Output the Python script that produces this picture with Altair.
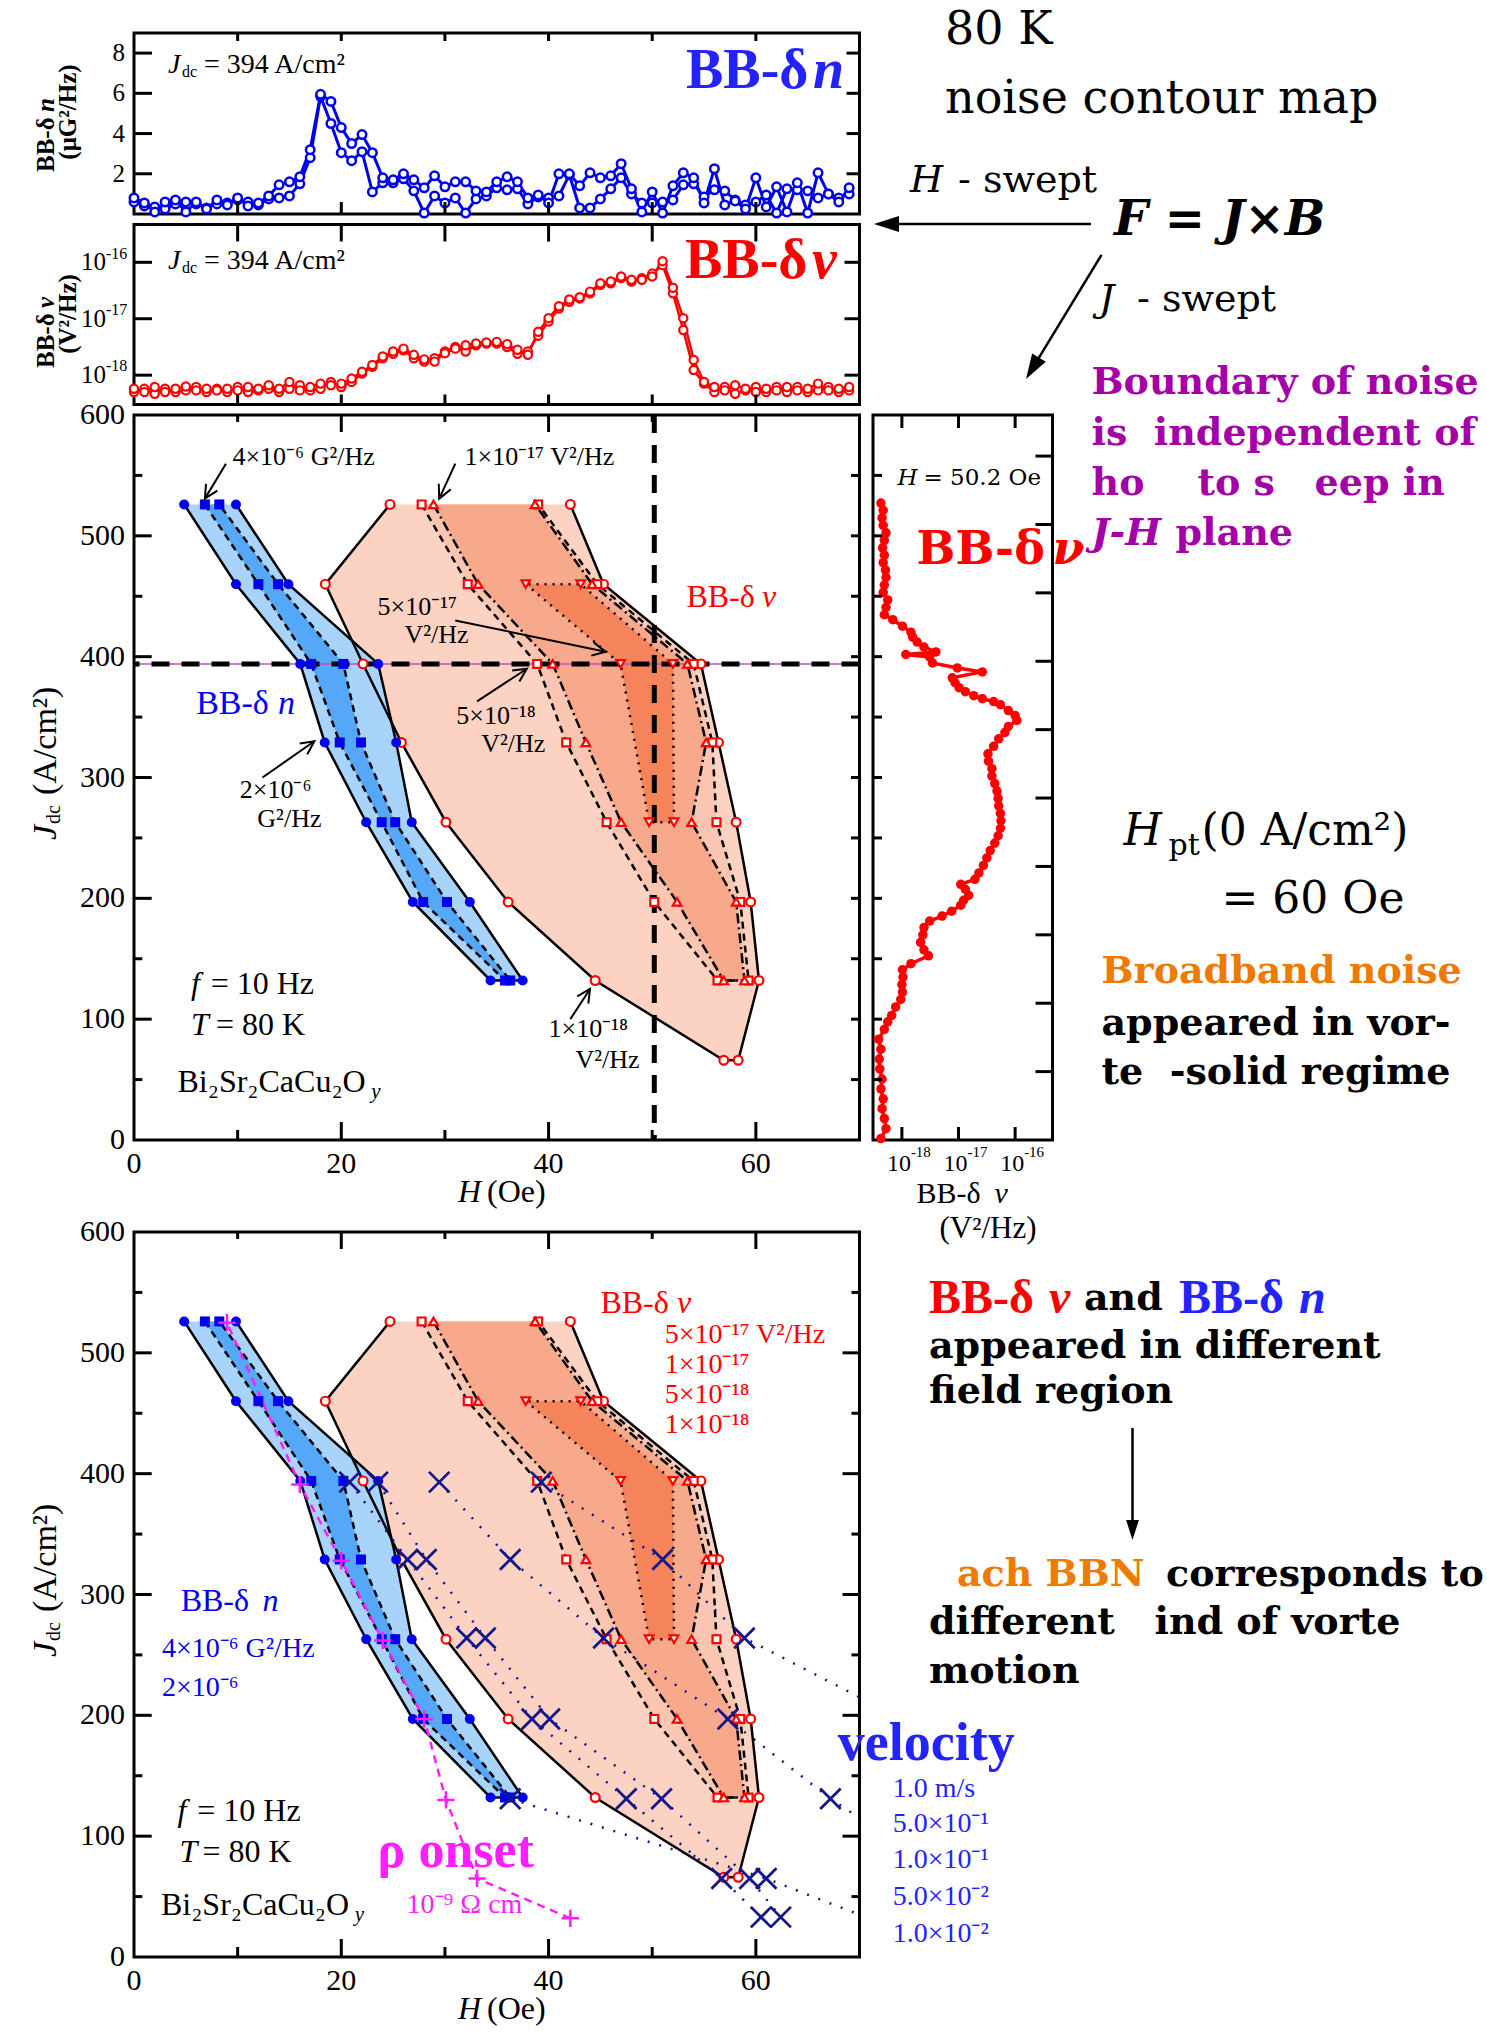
import math
import altair as alt
import pandas as pd

SERIF = "Liberation Serif"
WIDE = "DejaVu Serif"

BLUE = "#0000EE"
RED = "#FF0000"
NAVY = "#16168C"
MAGENTA = "#FF1EFF"
PURPLE = "#A500A8"
ORANGE = "#EE7A00"
LBLUE = "#2323FF"

# ------------------------------------------------------------------ data
# H-swept broadband noise at Jdc = 394 A/cm^2 (two field sweeps)
H_SWEEP = [0, 1, 2, 3, 4, 5, 6, 7, 8, 9,
           10, 11, 12, 13, 14, 15, 16, 17, 18, 19,
           20, 21, 22, 23, 24, 25, 26, 27, 28, 29,
           30, 31, 32, 33, 34, 35, 36, 37, 38, 39,
           40, 41, 42, 43, 44, 45, 46, 47, 48, 49,
           50, 51, 52, 53, 54, 55, 56, 57, 58, 59,
           60, 61, 62, 63, 64, 65, 66, 67, 68, 69]
DN_A = [0.8, 0.55, 0.1, 0.6, 0.7, 0.1, 0.6, 0.25, 0.7, 0.45,
        0.8, 0.4, 0.55, 0.9, 1.45, 1.6, 1.85, 3.2, 5.95, 5.6,
        4.3, 3.5, 3.95, 3.05, 1.8, 1.7, 2.0, 1.7, 1.3, 1.9,
        1.35, 1.6, 1.6, 1.15, 1.1, 1.6, 1.85, 1.6, 0.8, 0.95,
        0.55, 2.0, 2.0, 1.4, 2.05, 1.8, 1.9, 2.5, 1.25, 0.1,
        1.1, 0.05, 1.4, 2.05, 1.8, 0.55, 2.25, 0.45, 0.65, 0.25,
        1.8, 0.35, 1.35, 0.1, 1.55, 0.05, 2.05, 1.0, 0.6, 1.3]
DN_B = [0.6, 0.4, 0.35, 0.25, 0.5, 0.6, 0.5, 0.3, 0.5, 0.55,
        0.7, 0.6, 0.45, 0.75, 0.8, 0.9, 1.5, 2.8, 5.85, 4.5,
        3.05, 2.65, 3.1, 1.1, 1.55, 1.55, 1.75, 1.15, 0.05, 0.9,
        0.55, 0.8, 0.05, 0.75, 0.9, 1.3, 1.2, 1.25, 0.5, 0.85,
        0.8, 0.9, 1.95, 0.3, 0.3, 0.75, 1.25, 1.8, 1.0, 0.55,
        0.55, 0.6, 0.7, 1.45, 1.5, 0.85, 1.2, 1.15, 0.7, 0.45,
        0.6, 0.95, 0.05, 1.25, 1.2, 1.15, 0.8, 1.0, 0.8, 1.0]
# BB-delta v, log10 (V^2/Hz)
DV_A = [-18.24, -18.30, -18.21, -18.30, -18.24, -18.20, -18.27, -18.24, -18.27, -18.24,
        -18.27, -18.21, -18.24, -18.18, -18.24, -18.12, -18.27, -18.21, -18.15, -18.18,
        -18.15, -18.06, -17.94, -17.82, -17.67, -17.58, -17.53, -17.64, -17.72, -17.76,
        -17.61, -17.53, -17.47, -17.44, -17.42, -17.41, -17.45, -17.55, -17.64, -17.23,
        -16.99, -16.78, -16.66, -16.62, -16.52, -16.37, -16.34, -16.25, -16.31, -16.31,
        -16.25, -15.98, -16.45, -16.99, -17.73, -18.12, -18.21, -18.27, -18.18, -18.24,
        -18.30, -18.24, -18.27, -18.21, -18.27, -18.24, -18.15, -18.27, -18.24, -18.21]
DV_B = [-18.30, -18.24, -18.33, -18.24, -18.30, -18.27, -18.21, -18.30, -18.24, -18.30,
        -18.21, -18.30, -18.27, -18.24, -18.30, -18.24, -18.18, -18.27, -18.24, -18.12,
        -18.21, -18.12, -17.97, -17.85, -17.70, -17.62, -17.56, -17.70, -17.76, -17.70,
        -17.58, -17.50, -17.58, -17.47, -17.44, -17.44, -17.50, -17.62, -17.58, -17.30,
        -17.05, -16.82, -16.70, -16.64, -16.55, -16.40, -16.37, -16.28, -16.34, -16.28,
        -16.20, -16.05, -16.55, -17.20, -17.91, -18.15, -18.30, -18.21, -18.33, -18.27,
        -18.21, -18.30, -18.21, -18.30, -18.21, -18.30, -18.27, -18.21, -18.30, -18.27]

# J-swept BB-delta v at H = 50.2 Oe
J_SWEEP = [1.2, 9.4, 17.7, 25.9, 34.1, 42.3, 50.5, 58.8, 67.0, 75.2,
           83.4, 91.6, 97.8, 103.1, 110.1, 116.3, 122.4, 128.6, 134.8, 140.9,
           145.9, 152.4, 157.4, 163.5, 169.7, 175.8, 181.2, 185.3, 189.4, 194.3,
           198.4, 202.5, 207.5, 211.6, 215.7, 221.0, 227.2, 233.4, 239.5, 245.7,
           251.8, 258.0, 264.2, 270.3, 276.5, 282.7, 288.8, 295.0, 301.2, 307.3,
           313.5, 319.6, 325.8, 332.0, 337.3, 342.2, 347.2, 351.3, 355.4, 360.3,
           362.8, 365.2, 367.7, 371.0, 374.3, 378.4, 382.5, 387.4, 390.7, 394.8,
           399.8, 401.8, 403.9, 408.0, 412.1, 416.2, 420.3, 425.2, 430.6, 434.7,
           440.8, 447.0, 453.2, 459.3, 465.5, 471.7, 477.8, 484.0, 490.1, 496.3,
           502.5, 508.6, 514.8, 521.0, 527.1]
DV_J = [-18.37, -18.28, -18.31, -18.35, -18.33, -18.37, -18.35, -18.39, -18.40, -18.37,
        -18.41, -18.31, -18.25, -18.18, -18.11, -18.02, -17.99, -18.00, -17.98, -17.99,
        -17.84, -17.53, -17.61, -17.67, -17.63, -17.61, -17.51, -17.29, -17.12, -16.96,
        -16.91, -16.82, -16.88, -16.96, -16.71, -16.64, -16.56, -16.50, -16.44, -16.36,
        -16.30, -16.26, -16.25, -16.26, -16.29, -16.30, -16.32, -16.36, -16.41, -16.41,
        -16.47, -16.48, -16.38, -16.29, -16.18, -16.12, -15.97, -16.00, -16.12, -16.26,
        -16.38, -16.58, -16.73, -16.88, -16.99, -17.06, -17.11, -16.58, -17.02, -17.46,
        -17.51, -17.93, -17.40, -17.61, -17.73, -17.81, -17.84, -17.99, -18.16, -18.31,
        -18.28, -18.25, -18.33, -18.31, -18.28, -18.29, -18.33, -18.31, -18.34, -18.31,
        -18.28, -18.33, -18.35, -18.33, -18.37]

# BB-delta n contours (left / right field at each Jdc row)
BN_J = [526, 460, 394, 329, 263, 197, 132]
BN2_L = [4.84, 9.84, 16.04, 18.4, 22.4, 26.9, 34.4]     # 2e-6 G^2/Hz
BN2_R = [9.84, 14.9, 23.56, 25.3, 26.8, 32.4, 37.5]
BN4_L = [6.84, 12.0, 17.1, 19.85, 23.9, 27.9, 35.8]     # 4e-6 G^2/Hz
BN4_R = [8.23, 13.9, 20.2, 21.9, 25.2, 30.2, 36.3]

# BB-delta v contours
V18_J = [526, 460, 394, 329, 263, 197, 132, 66]          # 1e-18 V^2/Hz
V18_L = [24.7, 18.46, 22.1, 25.8, 30.1, 36.1, 44.5, 56.9]
V18_R = [42.1, 45.3, 54.7, 56.4, 58.1, 59.5, 60.3, 58.3]
V58_J = [526, 460, 394, 329, 263, 197, 132]              # 5e-18 V^2/Hz
V58_L = [27.75, 32.2, 38.9, 41.7, 45.6, 50.2, 56.3]
V58_R = [39.0, 44.7, 54.0, 55.8, 56.2, 58.5, 59.3]
V17_J = [526, 460, 394, 329, 263, 197, 132]              # 1e-17 V^2/Hz
V17_L = [28.9, 33.2, 40.4, 43.6, 47.0, 52.4, 56.9]
V17_R = [38.7, 44.2, 53.4, 55.2, 53.8, 58.1, 58.9]
V57_J = [460, 394, 263]                                   # 5e-17 V^2/Hz
V57_L = [37.8, 46.95, 49.7]
V57_R = [43.1, 52.0, 52.1]

# resistivity onset (1e-9 ohm cm)
RHO_H = [8.97, 16.0, 20.0, 24.0, 28.0, 30.1, 33.1, 42.1]
RHO_J = [525, 391, 328, 262, 197, 130, 65, 32]

# vortex velocity markers
VEL_H = [20.8, 23.5, 29.45, 39.3, 26.4, 28.2, 36.3, 51.0, 32.1, 33.9, 45.3, 58.9,
         38.4, 40.1, 57.3, 36.3, 47.5, 50.9, 67.2, 56.7, 59.4, 61.0, 60.5, 62.4]
VEL_J = [393, 393, 393, 393, 329, 329, 329, 329, 264, 264, 264, 264,
         197, 197, 197, 131, 131, 131, 131, 65, 65, 65, 33, 33]
# iso-velocity lines (field, current density)
VEL_LINES = [
    ([20.8, 26.4, 32.1, 38.4, 47.5, 56.7, 60.5], [393, 329, 264, 197, 131, 65, 33]),
    ([23.5, 28.2, 33.9, 40.1, 50.9, 59.4, 62.4], [393, 329, 264, 197, 131, 65, 33]),
    ([29.45, 36.3, 45.3, 57.3, 67.2, 70.0], [393, 329, 264, 197, 131, 115]),
    ([39.3, 51.0, 58.9, 70.0], [393, 329, 264, 215]),
    ([36.3, 61.0, 70.0], [131, 65, 35]),
]

# axis ticks
X_LABELS = [0, 20, 40, 60]
X_MAJOR = [20, 40, 60]
X_MINOR = [10, 30, 50]
X_ALL = [10, 20, 30, 40, 50, 60]
J_LABELS = [0, 100, 200, 300, 400, 500, 600]
J_MAJOR = [100, 200, 300, 400, 500]
J_MINOR = [50, 150, 250, 350, 450, 550]
J_ALL = [50, 100, 150, 200, 250, 300, 350, 400, 450, 500, 550]
J_RIGHT = [56.6, 113.2, 169.8, 226.4, 283.0, 339.6, 396.2, 452.8, 509.4, 566.0]
DN_TICKS = [2, 4, 6, 8]
DV_TICKS = [1e-18, 1e-17, 1e-16]
DV_EXP = ["-18", "-17", "-16"]

# ------------------------------------------------------------------ layout
PW = 725.5
H1, H2, HM, HB, RW = 181, 180, 725, 725, 179.5
O_P1 = (132, 31)
O_P2 = (132, 222.5)
O_MAIN = (132, 413)
O_RIGHT = (870.5, 413)
O_BOT = (132, 1230)

XS = alt.Scale(domain=[0, 70], nice=False, zero=False)
JS = alt.Scale(domain=[0, 600], nice=False, zero=False)
DNS = alt.Scale(domain=[0, 9], nice=False, zero=False)
DVS = alt.Scale(type="log", domain=[10 ** -18.52, 10 ** -15.33], nice=False)
DVR = alt.Scale(type="log", domain=[10 ** -18.51, 10 ** -15.34], nice=False)

KX = PW / 70.0
KY = HM / 600.0
CHEVRON = "M-1,-0.5L0,0L-1,0.5"
HEAD = "M0,0L-1,-0.32L-1,0.32Z"
XMARK = "M-1,-1L1,1M-1,1L1,-1"
PLUS = "M-1,0L1,0M0,-1L0,1"


def one():
    return pd.DataFrame({"k": [0]})


def ptext(origin, x, y, s, size, color="black", font=SERIF, style="normal",
          weight="normal", align="left", angle=None):
    props = dict(text=s, font=font, fontSize=size, fontStyle=style, fontWeight=weight,
                 color=color, align=align, baseline="middle")
    if angle is not None:
        props["angle"] = angle
    return alt.Chart(one()).mark_text(**props).encode(
        x=alt.value(x - origin[0]), y=alt.value(y - origin[1]))


def dtext(h, j, s, size, color="black", style="normal", weight="normal", font=SERIF):
    df = pd.DataFrame({"H": [h], "J": [j]})
    return alt.Chart(df).mark_text(
        text=s, font=font, fontSize=size, fontStyle=style, fontWeight=weight,
        color=color, align="left", baseline="middle").encode(
        x=alt.X("H:Q", scale=XS, axis=None), y=alt.Y("J:Q", scale=JS, axis=None))


def darrow(tail, head):
    df = pd.DataFrame({"H": [tail[0]], "J": [tail[1]], "H2": [head[0]], "J2": [head[1]]})
    ang = math.degrees(math.atan2(-(head[1] - tail[1]) * KY, (head[0] - tail[0]) * KX)) % 360
    shaft = alt.Chart(df).mark_rule(color="black", strokeWidth=2).encode(
        x=alt.X("H:Q", scale=XS, axis=None), y=alt.Y("J:Q", scale=JS, axis=None),
        x2=alt.X2("H2"), y2=alt.Y2("J2"))
    tip = alt.Chart(df).mark_point(shape=CHEVRON, size=700, angle=ang, filled=False,
                                   color="black", strokeWidth=2, opacity=1).encode(
        x=alt.X("H2:Q", scale=XS, axis=None), y=alt.Y("J2:Q", scale=JS, axis=None))
    return [shaft, tip]


def parrow(origin, x0, y0, x1, y1, size=2500, width=2.5):
    ox, oy = origin
    ang = math.degrees(math.atan2(y1 - y0, x1 - x0)) % 360
    length = math.hypot(x1 - x0, y1 - y0)
    back = math.sqrt(size) / 2 * 0.8
    xe = x1 - (x1 - x0) / length * back
    ye = y1 - (y1 - y0) / length * back
    shaft = alt.Chart(one()).mark_rule(color="black", strokeWidth=width).encode(
        x=alt.value(x0 - ox), y=alt.value(y0 - oy), x2=alt.value(xe - ox), y2=alt.value(ye - oy))
    tip = alt.Chart(one()).mark_point(shape=HEAD, size=size, angle=ang, filled=True,
                                      color="black", opacity=1).encode(
        x=alt.value(x1 - ox), y=alt.value(y1 - oy))
    return [shaft, tip]


def xticks(vals, xs, y0, y1):
    return alt.Chart(pd.DataFrame({"v": vals})).mark_rule(color="black", strokeWidth=3).encode(
        x=alt.X("v:Q", scale=xs, axis=None), y=alt.value(y0), y2=alt.value(y1))


def yticks(vals, ys, x0, x1):
    return alt.Chart(pd.DataFrame({"v": vals})).mark_rule(color="black", strokeWidth=3).encode(
        y=alt.Y("v:Q", scale=ys, axis=None), x=alt.value(x0), x2=alt.value(x1))


def xlabels(vals, texts, xs, y, size):
    df = pd.DataFrame({"v": vals, "t": texts})
    return alt.Chart(df).mark_text(font=SERIF, fontSize=size, color="black", align="center",
                                   baseline="top").encode(
        x=alt.X("v:Q", scale=xs, axis=None), y=alt.value(y), text=alt.Text("t:N"))


def ylabels(vals, texts, ys, x, size):
    df = pd.DataFrame({"v": vals, "t": texts})
    return alt.Chart(df).mark_text(font=SERIF, fontSize=size, color="black", align="right",
                                   baseline="middle").encode(
        y=alt.Y("v:Q", scale=ys, axis=None), x=alt.value(x), text=alt.Text("t:N"))


def log_ylabels(ys, x, size, esize):
    # "10" with a raised exponent, right of the number
    df = pd.DataFrame({"v": DV_TICKS, "e": DV_EXP})
    base = alt.Chart(df).mark_text(text="10", font=SERIF, fontSize=size, color="black",
                                   align="right", baseline="middle").encode(
        y=alt.Y("v:Q", scale=ys, axis=None), x=alt.value(x))
    sup = alt.Chart(df).mark_text(font=SERIF, fontSize=esize, color="black", align="left",
                                  baseline="middle", dy=-size * 0.35).encode(
        y=alt.Y("v:Q", scale=ys, axis=None), x=alt.value(x), text=alt.Text("e:N"))
    return [base, sup]


def log_xlabels(xs, y, size, esize):
    df = pd.DataFrame({"v": DV_TICKS, "e": DV_EXP})
    base = alt.Chart(df).mark_text(text="10", font=SERIF, fontSize=size, color="black",
                                   align="right", baseline="top", dx=9).encode(
        x=alt.X("v:Q", scale=xs, axis=None), y=alt.value(y))
    sup = alt.Chart(df).mark_text(font=SERIF, fontSize=esize, color="black", align="left",
                                  baseline="top", dx=9, dy=-7).encode(
        x=alt.X("v:Q", scale=xs, axis=None), y=alt.value(y), text=alt.Text("e:N"))
    return [base, sup]


# ------------------------------------------------------------ contour layers
def band(J, L, R, color):
    df = pd.DataFrame({"J": J, "L": L, "R": R})
    return alt.Chart(df).mark_area(orient="horizontal", color=color, opacity=1).encode(
        y=alt.Y("J:Q", scale=JS, axis=None), x=alt.X("L:Q", scale=XS, axis=None), x2=alt.X2("R"))


def outline(J, L, R, dash=None, close=False):
    hs = list(L) + list(R)[::-1]
    js = list(J) + list(J)[::-1]
    if close:
        hs.append(L[0])
        js.append(J[0])
    df = pd.DataFrame({"H": hs, "J": js, "o": list(range(len(hs)))})
    props = dict(color="black", strokeWidth=2.5)
    if dash:
        props["strokeDash"] = dash
    return alt.Chart(df).mark_line(**props).encode(
        x=alt.X("H:Q", scale=XS, axis=None), y=alt.Y("J:Q", scale=JS, axis=None), order="o:Q")


def open_marks(J, L, R, shape, size):
    df = pd.DataFrame({"H": list(L) + list(R), "J": list(J) + list(J)})
    return alt.Chart(df).mark_point(shape=shape, size=size, filled=True, fill="white",
                                    stroke=RED, strokeWidth=2.2, opacity=1).encode(
        x=alt.X("H:Q", scale=XS, axis=None), y=alt.Y("J:Q", scale=JS, axis=None))


def solid_marks(J, L, R, shape, size):
    df = pd.DataFrame({"H": list(L) + list(R), "J": list(J) + list(J)})
    return alt.Chart(df).mark_point(shape=shape, size=size, filled=True, color=BLUE,
                                    opacity=1).encode(
        x=alt.X("H:Q", scale=XS, axis=None), y=alt.Y("J:Q", scale=JS, axis=None))


def contour_layers():
    fills = [
        band(V18_J, V18_L, V18_R, "#FCD3C3"),
        band(V58_J, V58_L, V58_R, "#FBC6B1"),
        band(V17_J, V17_L, V17_R, "#F9A98B"),
        band(V57_J, V57_L, V57_R, "#F6845A"),
        band(BN_J, BN2_L, BN2_R, "#A8D3FA"),
        band(BN_J, BN4_L, BN4_R, "#55A8F7"),
    ]
    lines = [
        outline(V18_J, V18_L, V18_R),
        outline(V58_J, V58_L, V58_R, [7, 5]),
        outline(V17_J, V17_L, V17_R, [10, 4, 2, 4]),
        outline(V57_J, V57_L, V57_R, [2, 6], close=True),
        outline(BN_J, BN2_L, BN2_R),
        outline(BN_J, BN4_L, BN4_R, [7, 5]),
    ]
    marks = [
        open_marks(V18_J, V18_L, V18_R, "circle", 78),
        open_marks(V58_J, V58_L, V58_R, "square", 62),
        open_marks(V17_J, V17_L, V17_R, "triangle-up", 75),
        open_marks(V57_J, V57_L, V57_R, "triangle-down", 75),
        solid_marks(BN_J, BN2_L, BN2_R, "circle", 100),
        solid_marks(BN_J, BN4_L, BN4_R, "square", 100),
    ]
    return fills, lines, marks


def frame_ticks(height, right_major):
    layers = [
        xticks(X_MAJOR, XS, height, height - 18),
        xticks(X_MINOR, XS, height, height - 10),
        xticks(X_MAJOR, XS, 0, 17),
        xticks(X_MINOR, XS, 0, 7),
        yticks(J_MAJOR, JS, 0, 17.7),
        yticks(J_MINOR, JS, 0, 8.3),
        xlabels(X_LABELS, [str(v) for v in X_LABELS], XS, height + 9, 30),
        ylabels(J_LABELS, [str(v) for v in J_LABELS], JS, -9, 30),
    ]
    if right_major:
        layers += [yticks(J_MAJOR, JS, PW, PW - 17), yticks(J_MINOR, JS, PW, PW - 8)]
    else:
        layers += [yticks(J_ALL, JS, PW, PW - 8.5)]
    return layers


def axis_titles(origin, top):
    # rotated Jdc (A/cm2) title and the H (Oe) title
    cy = top + 425
    return [
        ptext(origin, 44, cy, "J", 34, style="italic", angle=270),
        ptext(origin, 52, cy - 16, "dc", 20, angle=270),
        ptext(origin, 44, cy - 45, "(A/cm\u00b2)", 34, angle=270),
        ptext(origin, 456, top + 777, "H", 32, style="italic"),
        ptext(origin, 485, top + 777, "(Oe)", 32),
    ]


# ------------------------------------------------------------------ panel 1
def panel_dn():
    o = O_P1
    df_a = pd.DataFrame({"H": H_SWEEP, "v": DN_A})
    df_b = pd.DataFrame({"H": H_SWEEP, "v": DN_B})
    enc = dict(x=alt.X("H:Q", scale=XS, axis=None), y=alt.Y("v:Q", scale=DNS, axis=None))
    layers = []
    for df in (df_b, df_a):
        layers.append(alt.Chart(df).mark_line(color=BLUE, strokeWidth=3).encode(**enc))
    for df in (df_b, df_a):
        layers.append(alt.Chart(df).mark_point(shape="circle", size=72, filled=True, fill="white",
                                               stroke=BLUE, strokeWidth=2.5, opacity=1).encode(**enc))
    layers += [
        xticks(X_ALL, XS, H1, H1 - 12),
        xticks(X_ALL, XS, 0, 8),
        yticks(DN_TICKS, DNS, 0, 18),
        yticks(DN_TICKS, DNS, PW, PW - 13),
        ylabels(DN_TICKS, [str(v) for v in DN_TICKS], DNS, -9, 25),
    ]
    layers += [
        ptext(o, 166, 63, "J", 28, style="italic"),
        ptext(o, 180, 70, "dc", 16),
        ptext(o, 202, 63, "= 394 A/cm\u00b2", 28),
        ptext(o, 684, 69, "BB-\u03b4", 56, color=LBLUE, weight="bold"),
        ptext(o, 811, 69, "n", 56, color=LBLUE, weight="bold", style="italic"),
        ptext(o, 44, 170, "BB-\u03b4", 25, weight="bold", angle=270),
        ptext(o, 44, 110, "n", 25, weight="bold", style="italic", angle=270),
        ptext(o, 66, 110, "(\u03bcG\u00b2/Hz)", 25, weight="bold", align="center", angle=270),
        # header texts on the right
        ptext(o, 943, 28, "80 K", 46, font=WIDE),
        ptext(o, 943, 97, "noise contour map", 46, font=WIDE),
        ptext(o, 908, 179, "H", 38, font=WIDE, style="italic"),
        ptext(o, 956, 179, "- swept", 38, font=WIDE),
        ptext(o, 1112, 219, "F = J\u00d7B", 48, font=WIDE, style="italic", weight="bold"),
    ]
    layers += parrow(o, 1089, 222, 872, 222)
    # anchor that fixes the page origin
    layers.append(alt.Chart(one()).mark_point(size=1, opacity=0).encode(
        x=alt.value(-132), y=alt.value(-31)))
    return alt.layer(*layers).properties(width=PW, height=H1)


# ------------------------------------------------------------------ panel 2
def panel_dv():
    o = O_P2
    df_a = pd.DataFrame({"H": H_SWEEP, "v": [10 ** e for e in DV_A]})
    df_b = pd.DataFrame({"H": H_SWEEP, "v": [10 ** e for e in DV_B]})
    enc = dict(x=alt.X("H:Q", scale=XS, axis=None), y=alt.Y("v:Q", scale=DVS, axis=None))
    layers = []
    for df in (df_b, df_a):
        layers.append(alt.Chart(df).mark_line(color=RED, strokeWidth=2.5).encode(**enc))
    for df in (df_b, df_a):
        layers.append(alt.Chart(df).mark_point(shape="circle", size=68, filled=True, fill="white",
                                               stroke=RED, strokeWidth=2.2, opacity=1).encode(**enc))
    layers += [
        xticks(X_ALL, XS, H2, H2 - 10),
        xticks(X_ALL, XS, 0, 17),
        yticks(DV_TICKS, DVS, 0, 18),
        yticks(DV_TICKS, DVS, PW, PW - 15),
    ]
    layers += log_ylabels(DVS, -28, 25, 16)
    layers += [
        ptext(o, 166, 259, "J", 28, style="italic"),
        ptext(o, 180, 266, "dc", 16),
        ptext(o, 202, 259, "= 394 A/cm\u00b2", 28),
        ptext(o, 683, 259, "BB-\u03b4", 56, color=RED, weight="bold"),
        ptext(o, 810, 259, "\u03bd", 56, color=RED, weight="bold", style="italic"),
        ptext(o, 44, 366, "BB-\u03b4", 25, weight="bold", angle=270),
        ptext(o, 44, 306, "\u03bd", 25, weight="bold", style="italic", angle=270),
        ptext(o, 66, 312, "(V\u00b2/Hz)", 25, weight="bold", align="center", angle=270),
        ptext(o, 1097, 298, "J", 38, font=WIDE, style="italic"),
        ptext(o, 1135, 298, "- swept", 38, font=WIDE),
    ]
    layers += parrow(o, 1099.5, 252.8, 1024, 377)
    return alt.layer(*layers).properties(width=PW, height=H2)


# ------------------------------------------------------------------ main map
def panel_main():
    o = O_MAIN
    fills, lines, marks = contour_layers()
    guides = [
        alt.Chart(pd.DataFrame({"J": [394]})).mark_rule(color="#C050C0", strokeWidth=1.5).encode(
            y=alt.Y("J:Q", scale=JS, axis=None)),
        alt.Chart(pd.DataFrame({"J": [394]})).mark_rule(color="black", strokeWidth=5,
                                                        strokeDash=[18, 12]).encode(
            y=alt.Y("J:Q", scale=JS, axis=None)),
        alt.Chart(pd.DataFrame({"H": [50.2]})).mark_rule(color="black", strokeWidth=5,
                                                         strokeDash=[18, 12]).encode(
            x=alt.X("H:Q", scale=XS, axis=None)),
    ]
    notes = [
        dtext(9.5, 565, "4\u00d710\u207b\u2076 G\u00b2/Hz", 26),
        dtext(31.9, 565, "1\u00d710\u207b\u00b9\u2077 V\u00b2/Hz", 26),
        dtext(23.5, 441, "5\u00d710\u207b\u00b9\u2077", 26),
        dtext(26.1, 418, "V\u00b2/Hz", 26),
        dtext(31.1, 351, "5\u00d710\u207b\u00b9\u2078", 26),
        dtext(33.5, 328, "V\u00b2/Hz", 26),
        dtext(10.2, 290, "2\u00d710\u207b\u2076", 26),
        dtext(11.9, 266, "G\u00b2/Hz", 26),
        dtext(40.0, 92, "1\u00d710\u207b\u00b9\u2078", 26),
        dtext(42.6, 66, "V\u00b2/Hz", 26),
        dtext(6.0, 361, "BB-\u03b4", 34, color=BLUE),
        dtext(13.9, 361, "n", 34, color=BLUE, style="italic"),
        dtext(53.3, 449, "BB-\u03b4", 32, color=RED),
        dtext(60.6, 449, "\u03bd", 32, color=RED, style="italic"),
        dtext(5.5, 129, "f", 32, style="italic"),
        dtext(7.4, 129, "= 10 Hz", 32),
        dtext(5.5, 95, "T", 32, style="italic"),
        dtext(7.9, 95, "= 80 K", 32),
        dtext(4.2, 48, "Bi\u2082Sr\u2082CaCu\u2082O", 32),
        dtext(22.9, 40, "y", 21, style="italic"),
    ]
    arrows = []
    for t, h in [((8.87, 559.7), (6.84, 530.8)), ((31.0, 559.7), (29.45, 530.8)),
                 ((31.0, 430), (45.5, 404)), ((33.1, 363), (37.9, 390)),
                 ((12.4, 300), (17.4, 330)), ((42.1, 100), (44.0, 125))]:
        arrows += darrow(t, h)
    layers = fills + guides + lines + marks + notes + arrows + frame_ticks(HM, False) + axis_titles(o, o[1])
    return alt.layer(*layers).properties(width=PW, height=HM)


# ------------------------------------------------------------------ J-swept panel
def panel_right():
    o = O_RIGHT
    df = pd.DataFrame({"J": J_SWEEP, "v": [10 ** e for e in DV_J]})
    enc = dict(x=alt.X("v:Q", scale=DVR, axis=None), y=alt.Y("J:Q", scale=JS, axis=None))
    layers = [
        alt.Chart(df).mark_line(color=RED, strokeWidth=3.5).encode(order="J:Q", **enc),
        alt.Chart(df).mark_circle(color=RED, size=90, opacity=1).encode(**enc),
        xticks(DV_TICKS, DVR, 0, 13),
        xticks(DV_TICKS, DVR, HM, HM - 13),
        yticks(J_ALL, JS, 0, 9),
        yticks(J_RIGHT, JS, RW, RW - 17),
    ]
    layers += log_xlabels(DVR, HM + 12, 24, 15)
    layers += [
        ptext(o, 895, 476, "H", 23, font=WIDE, style="italic"),
        ptext(o, 921, 476, "= 50.2 Oe", 23, font=WIDE),
        ptext(o, 914, 548, "BB-\u03b4", 46, color=RED, font=WIDE, weight="bold"),
        ptext(o, 1050, 548, "\u03bd", 46, color=RED, font=WIDE, weight="bold", style="italic"),
        ptext(o, 914, 1192, "BB-\u03b4", 30),
        ptext(o, 992, 1192, "\u03bd", 30, style="italic"),
        ptext(o, 937, 1227, "(V\u00b2/Hz)", 31),
        ptext(o, 1089, 381, "Boundary of noise", 38, color=PURPLE, font=WIDE, weight="bold"),
        ptext(o, 1089, 432, "is\u00a0\u00a0independent of", 38, color=PURPLE, font=WIDE, weight="bold"),
        ptext(o, 1089, 482, "ho\u00a0\u00a0\u00a0\u00a0to s\u00a0\u00a0\u00a0eep in", 38,
              color=PURPLE, font=WIDE, weight="bold"),
        ptext(o, 1089, 532, "J-H", 38, color=PURPLE, font=WIDE, weight="bold", style="italic"),
        ptext(o, 1173, 532, "plane", 38, color=PURPLE, font=WIDE, weight="bold"),
        ptext(o, 1121, 830, "H", 44, font=WIDE, style="italic"),
        ptext(o, 1166, 844, "pt", 30, font=WIDE),
        ptext(o, 1199, 830, "(0 A/cm\u00b2)", 44, font=WIDE),
        ptext(o, 1219, 898, "= 60 Oe", 44, font=WIDE),
        ptext(o, 1099, 970, "Broadband noise", 38, color=ORANGE, font=WIDE, weight="bold"),
        ptext(o, 1099, 1022, "appeared in vor-", 38, font=WIDE, weight="bold"),
        ptext(o, 1099, 1071, "te\u00a0\u00a0-solid regime", 38, font=WIDE, weight="bold"),
    ]
    return alt.layer(*layers).properties(width=RW, height=HM)


# ------------------------------------------------------------------ bottom map
def panel_bottom():
    o = O_BOT
    fills, lines, marks = contour_layers()
    vel_lines = []
    for hs, js in VEL_LINES:
        df = pd.DataFrame({"H": hs, "J": js, "o": list(range(len(hs)))})
        vel_lines.append(alt.Chart(df).mark_line(color=NAVY, strokeWidth=2.5, strokeDash=[2, 10]).encode(
            x=alt.X("H:Q", scale=XS, axis=None), y=alt.Y("J:Q", scale=JS, axis=None), order="o:Q"))
    rho = pd.DataFrame({"H": RHO_H, "J": RHO_J})
    renc = dict(x=alt.X("H:Q", scale=XS, axis=None), y=alt.Y("J:Q", scale=JS, axis=None))
    rho_line = alt.Chart(rho).mark_line(color=MAGENTA, strokeWidth=2.5, strokeDash=[8, 6]).encode(
        order="J:Q", **renc)
    rho_pts = alt.Chart(rho).mark_point(shape=PLUS, size=300, filled=False, color=MAGENTA,
                                        strokeWidth=2.5, opacity=1).encode(**renc)
    vel = pd.DataFrame({"H": VEL_H, "J": VEL_J})
    vel_pts = alt.Chart(vel).mark_point(shape=XMARK, size=420, filled=False, color=NAVY,
                                        strokeWidth=2.8, opacity=1).encode(**renc)
    notes = [
        dtext(45.0, 541, "BB-\u03b4", 32, color=RED),
        dtext(52.4, 541, "\u03bd", 32, color=RED, style="italic"),
        dtext(51.2, 515, "5\u00d710\u207b\u00b9\u2077 V\u00b2/Hz", 28, color=RED),
        dtext(51.2, 490, "1\u00d710\u207b\u00b9\u2077", 28, color=RED),
        dtext(51.2, 465, "5\u00d710\u207b\u00b9\u2078", 28, color=RED),
        dtext(51.2, 440, "1\u00d710\u207b\u00b9\u2078", 28, color=RED),
        dtext(4.5, 295, "BB-\u03b4", 32, color=BLUE),
        dtext(12.4, 295, "n", 32, color=BLUE, style="italic"),
        dtext(2.7, 255, "4\u00d710\u207b\u2076 G\u00b2/Hz", 28, color=BLUE),
        dtext(2.7, 223, "2\u00d710\u207b\u2076", 28, color=BLUE),
        dtext(4.2, 121, "f", 32, style="italic"),
        dtext(6.1, 121, "= 10 Hz", 32),
        dtext(4.4, 87, "T", 32, style="italic"),
        dtext(6.6, 87, "= 80 K", 32),
        dtext(2.6, 43, "Bi\u2082Sr\u2082CaCu\u2082O", 32),
        dtext(21.3, 35, "y", 21, style="italic"),
        dtext(23.5, 88, "\u03c1 onset", 52, color=MAGENTA, weight="bold"),
        dtext(26.3, 43, "10\u207b\u2079 \u03a9 cm", 28, color=MAGENTA),
        dtext(67.9, 176, "velocity", 54, color=LBLUE, weight="bold"),
        dtext(73.2, 139, "1.0 m/s", 28, color=LBLUE),
        dtext(73.2, 110, "5.0\u00d710\u207b\u00b9", 28, color=LBLUE),
        dtext(73.2, 80, "1.0\u00d710\u207b\u00b9", 28, color=LBLUE),
        dtext(73.2, 50, "5.0\u00d710\u207b\u00b2", 28, color=LBLUE),
        dtext(73.2, 19, "1.0\u00d710\u207b\u00b2", 28, color=LBLUE),
    ]
    side = [
        ptext(o, 927, 1297, "BB-\u03b4", 48, color=RED, weight="bold"),
        ptext(o, 1047, 1297, "\u03bd", 48, color=RED, weight="bold", style="italic"),
        ptext(o, 1082, 1297, "and", 38, font=WIDE, weight="bold"),
        ptext(o, 1177, 1297, "BB-\u03b4", 48, color=LBLUE, weight="bold"),
        ptext(o, 1297, 1297, "n", 48, color=LBLUE, weight="bold", style="italic"),
        ptext(o, 927, 1345, "appeared in different", 38, font=WIDE, weight="bold"),
        ptext(o, 927, 1390, "field region", 38, font=WIDE, weight="bold"),
        ptext(o, 955, 1573, "ach BBN", 38, color=ORANGE, font=WIDE, weight="bold"),
        ptext(o, 1164, 1573, "corresponds to", 38, font=WIDE, weight="bold"),
        ptext(o, 927, 1621, "different\u00a0\u00a0\u00a0ind of vorte", 38, font=WIDE, weight="bold"),
        ptext(o, 927, 1670, "motion", 38, font=WIDE, weight="bold"),
    ]
    side += parrow(o, 1130.5, 1426, 1130.5, 1538, size=1600)
    layers = (fills + lines + vel_lines + [rho_line] + marks + [vel_pts, rho_pts] + notes + side
              + frame_ticks(HB, True) + axis_titles(o, o[1]))
    return alt.layer(*layers).properties(width=PW, height=HB)


def blank(w, h):
    return alt.Chart(one()).mark_point(opacity=0).encode(
        x=alt.value(0), y=alt.value(0)).properties(
        width=w, height=h, view=alt.ViewBackground(strokeOpacity=0))


chart = alt.concat(
    panel_dn(), blank(1, 1),
    panel_dv(), blank(1, 1),
    panel_main(), panel_right(),
    blank(1, 71), blank(1, 1),
    panel_bottom(), blank(1, 1),
    columns=2, spacing={"row": 10.5, "column": 13}, bounds="flush",
).properties(padding=0, background="white").configure_view(stroke="black", strokeWidth=3)

chart.save("out.html", embed_options={"renderer": "svg", "actions": False})
